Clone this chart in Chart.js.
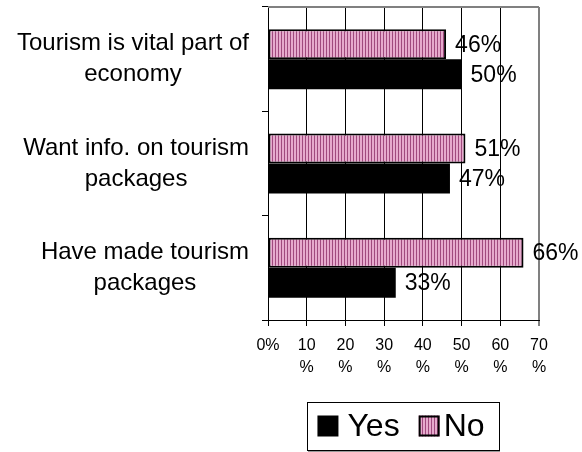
<!DOCTYPE html>
<html>
<head>
<meta charset="utf-8">
<script src="https://cdn.jsdelivr.net/npm/chart.js@4"></script>
<style>
  html, body { margin: 0; padding: 0; background: #fff; }
</style>
</head>
<body>
<canvas id="grafica" width="582" height="452"></canvas>
<script>
// datos
const categorias = [
  ['Tourism is vital part of', 'economy'],
  ['Want info. on tourism', 'packages'],
  ['Have made tourism', 'packages']
];
const valoresYes = [50, 47, 33];
const valoresNo = [46, 51, 66];
const ticksX = [0, 10, 20, 30, 40, 50, 60, 70];
const nombresSeries = ['Yes', 'No'];

const fuente = "'Liberation Sans', Arial, sans-serif";
const grafica = document.getElementById('grafica');
const ctx = grafica.getContext('2d');

// relleno rayado rosa
const pc = document.createElement('canvas');
pc.width = 3; pc.height = 1;
const p = pc.getContext('2d');
p.fillStyle = '#e6aacd';
p.fillRect(0, 0, 3, 1);
p.fillStyle = '#a04a7e';
p.fillRect(2, 0, 1, 1);
const rayas = ctx.createPattern(pc, 'repeat');

// borde gris del area
const bordeArea = {
  id: 'bordeArea',
  beforeDatasetsDraw(chart) {
    const a = chart.chartArea;
    const c = chart.ctx;
    c.save();
    c.strokeStyle = '#808080';
    c.lineWidth = 2;
    c.beginPath();
    c.moveTo(a.left, a.top);
    c.lineTo(a.right, a.top);
    c.stroke();
    c.restore();
  }
};

// etiquetas de valor
const etiquetasValor = {
  id: 'etiquetasValor',
  afterDatasetsDraw(chart) {
    const c = chart.ctx;
    c.save();
    c.font = '23px ' + fuente;
    c.fillStyle = '#000';
    c.textAlign = 'left';
    c.textBaseline = 'middle';
    chart.data.datasets.forEach((ds, i) => {
      chart.getDatasetMeta(i).data.forEach((el, j) => {
        c.fillText(ds.data[j] + '%', el.x + 9, el.y + 1);
      });
    });
    c.restore();
  }
};

// etiquetas de categoria
const etiquetasCat = {
  id: 'etiquetasCat',
  afterDraw(chart) {
    const c = chart.ctx;
    const y = chart.scales.y;
    c.save();
    c.font = '24px ' + fuente;
    c.fillStyle = '#000';
    c.textAlign = 'center';
    c.textBaseline = 'middle';
    categorias.forEach((lineas, i) => {
      const ancho = Math.max(...lineas.map(l => c.measureText(l).width));
      const cx = y.right - 19 - ancho / 2;
      const cy = y.getPixelForValue(i);
      const alto = 31;
      lineas.forEach((l, k) => {
        c.fillText(l, cx, cy + (k - (lineas.length - 1) / 2) * alto);
      });
    });
    c.restore();
  }
};

// leyenda con caja
const leyenda = {
  id: 'leyenda',
  afterDraw(chart) {
    const c = chart.ctx;
    const a = chart.chartArea;
    const items = [
      { texto: nombresSeries[0], relleno: '#000', linea: null, gap: 9 },
      { texto: nombresSeries[1], relleno: rayas, linea: '#000', gap: 4 }
    ];
    c.save();
    c.font = '32px ' + fuente;
    const cuadro = 21;
    let total = 10;
    items.forEach((it, i) => {
      it.ancho = c.measureText(it.texto).width;
      total += cuadro + it.gap + it.ancho + (i < items.length - 1 ? 19 : 15);
    });
    const alto = 48;
    const x0 = (a.left + a.right) / 2 - total / 2;
    const y0 = a.bottom + 82;
    c.strokeStyle = '#000';
    c.lineWidth = 1;
    c.strokeRect(Math.round(x0) + 0.5, y0 + 0.5, Math.round(total), alto);
    c.strokeStyle = '#9a9a9a';
    c.beginPath();
    c.moveTo(Math.round(x0) + 1, y0 + alto + 1.5);
    c.lineTo(Math.round(x0) + Math.round(total) + 1, y0 + alto + 1.5);
    c.stroke();
    let x = x0 + 10;
    const cy = y0 + alto / 2;
    items.forEach(it => {
      c.fillStyle = it.relleno;
      c.fillRect(x, cy - cuadro / 2, cuadro, cuadro);
      if (it.linea) {
        c.strokeStyle = it.linea;
        c.lineWidth = 2;
        c.strokeRect(x + 1, cy - cuadro / 2 + 1, cuadro - 2, cuadro - 2);
      }
      x += cuadro + it.gap;
      c.fillStyle = '#000';
      c.textAlign = 'left';
      c.textBaseline = 'middle';
      c.fillText(it.texto, x, cy + 1);
      x += it.ancho + 19;
    });
    c.restore();
  }
};

new Chart(grafica, {
  type: 'bar',
  data: {
    labels: categorias,
    datasets: [{
      label: nombresSeries[1],
      data: valoresNo,
      backgroundColor: rayas,
      borderColor: '#000',
      borderWidth: 2,
      borderSkipped: false
    }, {
      label: nombresSeries[0],
      data: valoresYes,
      backgroundColor: '#000',
      borderWidth: 0
    }]
  },
  options: {
    indexAxis: 'y',
    responsive: false,
    animation: false,
    events: [],
    categoryPercentage: 0.575,
    barPercentage: 1,
    layout: { padding: { top: 7, right: 43, left: 0, bottom: 0 } },
    plugins: {
      legend: { display: false },
      tooltip: { enabled: false }
    },
    scales: {
      x: {
        min: ticksX[0],
        max: ticksX[ticksX.length - 1],
        afterBuildTicks(scale) {
          scale.ticks = ticksX.map(v => ({ value: v }));
        },
        afterFit(scale) { scale.height = 132; },
        ticks: {
          color: '#000',
          padding: 9,
          maxRotation: 0,
          font: { family: fuente, size: 16, lineHeight: 1.375 },
          callback: v => v === 0 ? '0%' : [String(v), '%']
        },
        grid: {
          color: c => (c.tick && c.tick.value === 70) ? '#808080' : '#000',
          lineWidth: c => (c.tick && c.tick.value === 70) ? 2 : 1,
          tickLength: 6
        },
        border: { color: '#000', width: 1 }
      },
      y: {
        afterFit(scale) { scale.width = 268; },
        ticks: { display: false },
        grid: {
          drawOnChartArea: false,
          drawTicks: true,
          tickLength: 6,
          color: '#000',
          offset: true
        },
        border: { color: '#000', width: 1 }
      }
    }
  },
  plugins: [bordeArea, etiquetasValor, etiquetasCat, leyenda]
});
</script>
</body>
</html>
